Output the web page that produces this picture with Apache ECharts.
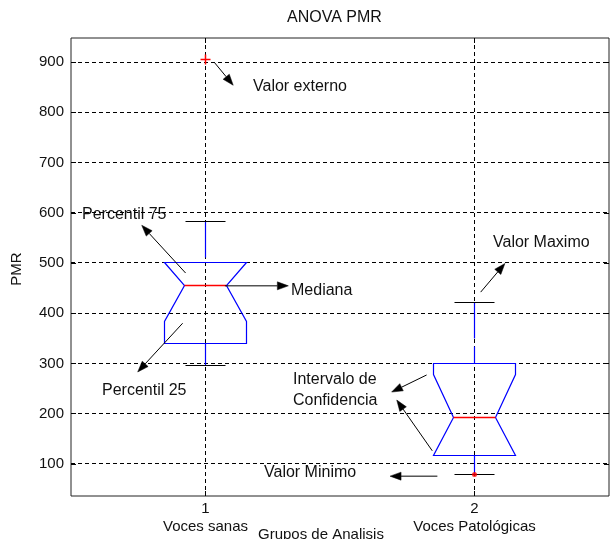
<!DOCTYPE html>
<html>
<head>
<meta charset="utf-8">
<script src="https://cdn.jsdelivr.net/npm/echarts@6/dist/echarts.min.js"></script>
<style>
  html, body { margin: 0; padding: 0; background: #fff; }
  #chart { width: 616px; height: 539px; }
</style>
</head>
<body>
<div id="chart"></div>
<script>
// grupos (eje X)
const groups = ['Voces sanas', 'Voces Patológicas'];
const groupPos = [1, 2];
// estadisticos de cada caja
const whiskerLow  = [295, 79];
const q1          = [340, 116.5];
const notchLow    = [383, 116.5];
const median      = [455, 193];
const notchHigh   = [500, 278];
const q3          = [500, 300];
const whiskerHigh = [583, 421];
// valor externo (+) y minimo marcado (punto)
const outliers = [[1, 906]];
const minPoints = [[2, 79]];
// ticks
const yTicks = [100, 200, 300, 400, 500, 600, 700, 800, 900];
const xTicks = [1, 2];

// flechas de las anotaciones (coordenadas de datos)
const arrows = [
  { from: [1.032, 900], to: [1.103, 854] },     // Valor externo
  { from: [0.926, 480], to: [0.763, 575] },     // Percentil 75
  { from: [1.072, 454.5], to: [1.308, 454.5] }, // Mediana
  { from: [0.915, 380], to: [0.748, 283] },     // Percentil 25
  { from: [2.023, 442], to: [2.113, 499] },     // Valor Maximo
  { from: [1.822, 277], to: [1.692, 243] },     // Intervalo 1
  { from: [1.843, 126], to: [1.711, 227] },     // Intervalo 2
  { from: [1.862, 75.5], to: [1.686, 75.5] }    // Valor Minimo
];

const FONT = '"Liberation Sans", Arial, sans-serif';
const BLUE = '#0000ff';
const RED = '#ff0000';

// alinear lineas de 1px al pixel
const crisp = v => Math.round(v - 0.5) + 0.5;

// rejilla punteada: horizontales (dim 0 = 0) y verticales (dim 0 = 1)
function renderGrid(params, api) {
  const cs = params.coordSys;
  const isVertical = api.value(0) === 1;
  const v = api.value(1);
  let shape;
  if (isVertical) {
    const x = crisp(api.coord([v, 500])[0]);
    shape = { x1: x, y1: cs.y, x2: x, y2: cs.y + cs.height };
  } else {
    const y = crisp(api.coord([1, v])[1]);
    shape = { x1: cs.x, y1: y, x2: cs.x + cs.width, y2: y };
  }
  return { type: 'line', shape: shape, style: { stroke: '#000', lineWidth: 1, lineDash: [4, 3] } };
}

function renderBox(params, api) {
  const x = api.value(0);
  const wl = api.value(1), a = api.value(2), nl = api.value(3), m = api.value(4);
  const nh = api.value(5), b = api.value(6), wh = api.value(7);
  const W = 0.152, N = 0.077, C = 0.073;
  const p = (dx, y) => {
    const c = api.coord([x + dx, y]);
    return [crisp(c[0]), crisp(c[1])];
  };
  const seg = (p1, p2, stroke, dash, lw) => ({
    type: 'line',
    shape: { x1: p1[0], y1: p1[1], x2: p2[0], y2: p2[1] },
    style: { stroke: stroke, lineWidth: lw || 1, lineDash: dash || null }
  });
  const pts = [
    p(-W, b), p(-W, nh), p(-N, m), p(-W, nl), p(-W, a),
    p(W, a), p(W, nl), p(N, m), p(W, nh), p(W, b)
  ];
  return {
    type: 'group',
    children: [
      // bigotes: discontinuos desde el tope hacia la caja
      seg(p(0, wh), p(0, b), BLUE, [36, 8], 1.2),
      seg(p(0, wl), p(0, a), BLUE, [36, 8], 1.2),
      seg(p(-C, wh), p(C, wh), '#000'),
      seg(p(-C, wl), p(C, wl), '#000'),
      { type: 'polygon', shape: { points: pts }, style: { fill: 'none', stroke: BLUE, lineWidth: 1.2 } },
      seg(p(-N, m), p(N, m), RED, null, 1.6)
    ]
  };
}

function renderPlus(params, api) {
  const c = api.coord([api.value(0), api.value(1)]);
  const cx = crisp(c[0]), cy = crisp(c[1]);
  return {
    type: 'group',
    children: [
      { type: 'line', shape: { x1: cx - 5, y1: cy, x2: cx + 5, y2: cy }, style: { stroke: RED, lineWidth: 1.5 } },
      { type: 'line', shape: { x1: cx, y1: cy - 5, x2: cx, y2: cy + 5 }, style: { stroke: RED, lineWidth: 1.5 } }
    ]
  };
}

function renderArrow(params, api) {
  const p1 = api.coord([api.value(0), api.value(1)]);
  const p2 = api.coord([api.value(2), api.value(3)]);
  const dx = p2[0] - p1[0], dy = p2[1] - p1[1];
  const len = Math.sqrt(dx * dx + dy * dy);
  const ux = dx / len, uy = dy / len;
  const L = 11, H = 4;
  const bx = p2[0] - ux * L, by = p2[1] - uy * L;
  return {
    type: 'group',
    children: [
      { type: 'line', shape: { x1: p1[0], y1: p1[1], x2: bx, y2: by }, style: { stroke: '#000', lineWidth: 1 } },
      {
        type: 'polygon',
        shape: { points: [[p2[0], p2[1]], [bx - uy * H, by + ux * H], [bx + uy * H, by - ux * H]] },
        style: { fill: '#000', stroke: '#000', lineWidth: 0.5 }
      }
    ]
  };
}

const hiddenLabel = { show: false };
const tickStyle = { show: true, inside: true, length: 5, lineStyle: { color: '#000' } };

const option = {
  animation: false,
  backgroundColor: '#fff',
  grid: { left: 71, right: 7, top: 38, bottom: 43, show: true, borderColor: '#222', borderWidth: 1 },
  xAxis: [
    {
      type: 'value', min: 0.5, max: 2.5, position: 'bottom',
      axisLine: { show: false }, splitLine: { show: false },
      axisTick: Object.assign({ customValues: xTicks }, tickStyle),
      axisLabel: {
        customValues: xTicks, color: '#111', fontSize: 15, fontFamily: FONT, lineHeight: 18, margin: 4,
        formatter: v => v + '\n' + groups[v - 1]
      }
    },
    {
      type: 'value', min: 0.5, max: 2.5, position: 'top',
      axisLine: { show: false }, splitLine: { show: false },
      axisTick: Object.assign({ customValues: xTicks }, tickStyle),
      axisLabel: hiddenLabel
    }
  ],
  yAxis: [
    {
      type: 'value', min: 36, max: 948, position: 'left',
      axisLine: { show: false }, splitLine: { show: false },
      axisTick: Object.assign({ customValues: yTicks }, tickStyle),
      axisLabel: { customValues: yTicks, color: '#111', fontSize: 15, fontFamily: FONT, margin: 7 }
    },
    {
      type: 'value', min: 36, max: 948, position: 'right',
      axisLine: { show: false }, splitLine: { show: false },
      axisTick: Object.assign({ customValues: yTicks }, tickStyle),
      axisLabel: hiddenLabel
    }
  ],
  series: [
    {
      type: 'custom', z: 1, silent: true,
      renderItem: renderGrid,
      encode: { x: -1, y: -1 },
      data: yTicks.map(v => [0, v]).concat(xTicks.map(v => [1, v]))
    },
    {
      type: 'custom', z: 3, silent: true,
      renderItem: renderBox,
      encode: { x: 0, y: [1, 2, 3, 4, 5, 6, 7] },
      data: groupPos.map((x, i) => [x, whiskerLow[i], q1[i], notchLow[i], median[i], notchHigh[i], q3[i], whiskerHigh[i]])
    },
    {
      type: 'custom', z: 4, silent: true,
      renderItem: renderPlus,
      encode: { x: 0, y: 1 },
      data: outliers
    },
    {
      type: 'scatter', z: 4, silent: true,
      symbol: 'circle', symbolSize: 5,
      itemStyle: { color: RED },
      data: minPoints
    },
    {
      // flechas de anotacion
      type: 'custom', z: 5, silent: true,
      renderItem: renderArrow,
      encode: { x: [0, 2], y: [1, 3] },
      data: arrows.map(a => [a.from[0], a.from[1], a.to[0], a.to[1]])
    }
  ],
  graphic: [
    { type: 'text', x: 287, y: 18, style: { text: 'ANOVA PMR', font: '16px ' + FONT, fill: '#111', verticalAlign: 'middle' } },
    { type: 'text', x: 17, y: 269, rotation: Math.PI / 2, style: { text: 'PMR', font: '15px ' + FONT, fill: '#111', align: 'center', verticalAlign: 'middle' } },
    { type: 'text', x: 258, y: 535, style: { text: 'Grupos de Analisis', font: '15px ' + FONT, fill: '#111', verticalAlign: 'middle' } },
    { type: 'text', x: 253, y: 87, style: { text: 'Valor externo', font: '16px ' + FONT, fill: '#111', verticalAlign: 'middle' } },
    { type: 'text', x: 82, y: 215, style: { text: 'Percentil 75', font: '16px ' + FONT, fill: '#111', verticalAlign: 'middle' } },
    { type: 'text', x: 291, y: 291, style: { text: 'Mediana', font: '16px ' + FONT, fill: '#111', verticalAlign: 'middle' } },
    { type: 'text', x: 102, y: 391, style: { text: 'Percentil 25', font: '16px ' + FONT, fill: '#111', verticalAlign: 'middle' } },
    { type: 'text', x: 493, y: 243, style: { text: 'Valor Maximo', font: '16px ' + FONT, fill: '#111', verticalAlign: 'middle' } },
    { type: 'text', x: 293, y: 380, style: { text: 'Intervalo de', font: '16px ' + FONT, fill: '#111', verticalAlign: 'middle' } },
    { type: 'text', x: 293, y: 401, style: { text: 'Confidencia', font: '16px ' + FONT, fill: '#111', verticalAlign: 'middle' } },
    { type: 'text', x: 264, y: 473, style: { text: 'Valor Minimo', font: '16px ' + FONT, fill: '#111', verticalAlign: 'middle' } }
  ]
};

const chart = echarts.init(document.getElementById('chart'));
chart.setOption(option);
window.addEventListener('resize', () => chart.resize());
</script>
</body>
</html>
